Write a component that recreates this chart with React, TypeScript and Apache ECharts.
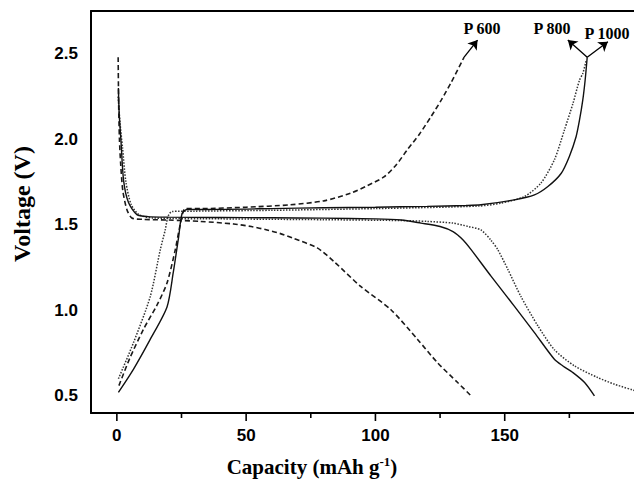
import React, { useEffect, useRef } from "react";
import * as echarts from "echarts";

// ---- Data (capacity in mAh g-1, voltage in V) ----
// P 600 (dashed)
const p600DisCap = [0.5, 0.7, 1.0, 1.5, 2.3, 3.9, 5.8, 10, 20, 32.3, 45.2, 52, 58.1, 63, 68.4, 77.5, 84, 94.3, 105.9, 116.3, 124, 131.8, 137];
const p600DisV = [2.48, 2.2, 2.0, 1.85, 1.7, 1.588, 1.54, 1.532, 1.528, 1.52, 1.505, 1.49, 1.47, 1.45, 1.42, 1.365, 1.285, 1.14, 1.005, 0.83, 0.694, 0.578, 0.5];
const p600ChgCap = [0.8, 5, 10.3, 15.5, 19.4, 22.6, 24.5, 26.5, 32.3, 50, 67, 80, 90.4, 97, 103.3, 108, 112.4, 117, 121.4, 125.5, 129.2, 134.3];
const p600ChgV = [0.56, 0.72, 0.89, 1.03, 1.16, 1.355, 1.5, 1.595, 1.595, 1.603, 1.617, 1.64, 1.685, 1.73, 1.78, 1.85, 1.94, 2.03, 2.13, 2.23, 2.33, 2.48];

// P 800 (dotted)
const p800DisCap = [0.5, 1.2, 2.2, 3.5, 5.5, 8.5, 14, 40, 80, 110, 120, 130, 136, 140.8, 144.7, 147.3, 151.2, 156.3, 162.8, 169.2, 177, 186, 192.5, 200.5];
const p800DisV = [2.25, 2.1, 1.95, 1.75, 1.62, 1.56, 1.54, 1.535, 1.53, 1.525, 1.52, 1.51, 1.49, 1.47, 1.41, 1.355, 1.24, 1.08, 0.91, 0.77, 0.675, 0.607, 0.568, 0.53];
const p800ChgCap = [0.6, 6.4, 12.9, 16.8, 18.7, 19.8, 21.3, 30, 60, 100, 140, 148.6, 157.6, 164, 169.2, 173.1, 176.4, 178.9, 180.2, 181.5];
const p800ChgV = [0.6, 0.81, 1.08, 1.355, 1.47, 1.55, 1.578, 1.58, 1.585, 1.595, 1.61, 1.627, 1.665, 1.744, 1.88, 2.055, 2.21, 2.345, 2.385, 2.46];

// P 1000 (solid)
const p1000DisCap = [0.6, 0.9, 1.55, 2.6, 4.5, 7.75, 12, 20, 40, 60, 80, 100, 110, 117.6, 125, 130, 134, 137, 144.7, 153.7, 161.5, 169.2, 172.5, 176.4, 180.9, 184.7];
const p1000DisV = [2.3, 2.15, 2.0, 1.76, 1.63, 1.56, 1.548, 1.545, 1.543, 1.541, 1.539, 1.535, 1.528, 1.51, 1.49, 1.46, 1.41, 1.355, 1.2, 1.025, 0.87, 0.714, 0.675, 0.636, 0.578, 0.5];
const p1000ChgCap = [0.6, 6.4, 12.9, 19.4, 21.8, 23.9, 25.2, 27.1, 35, 60, 80, 100, 120, 135, 140.8, 153.7, 161.5, 166.7, 171.8, 175, 177.6, 178.9, 180.2, 181.1, 181.9];
const p1000ChgV = [0.52, 0.655, 0.83, 1.02, 1.22, 1.43, 1.565, 1.59, 1.59, 1.595, 1.6, 1.603, 1.608, 1.613, 1.617, 1.646, 1.675, 1.724, 1.8, 1.9, 2.015, 2.11, 2.23, 2.345, 2.48];

// Arrows (start point, tip)
const arrowP600 = [[134.3, 2.48], [139.5, 2.58]];
const arrowP800 = [[181.9, 2.48], [174.4, 2.58]];
const arrowP1000 = [[181.9, 2.48], [189.9, 2.57]];

// Ticks
const xMajorTicks = [0, 50, 100, 150];
const xMinorTicks = [25, 75, 125, 175];
const yMajorTicks = [0.5, 1.0, 1.5, 2.0, 2.5];
const yMinorTicks = [0.75, 1.25, 1.75, 2.25];

const X_MIN = -10;
const X_MAX = 200;
const Y_MIN = 0.4;
const Y_MAX = 2.75;

const GRID = { left: 91, right: 0, top: 11, bottom: 66 };
const W = 634;
const H = 479;

const zip = (xs: number[], ys: number[]) => xs.map((x, i) => [x, ys[i]]);

export default function App() {
  const ref = useRef<HTMLDivElement>(null);
  useEffect(() => {
    const chart = echarts.init(ref.current!, null, { renderer: "svg" });
    const serif = '"Liberation Serif", "Times New Roman", serif';
    const sans = '"Liberation Sans", Arial, sans-serif';

    const mkLine = (name: string, xs: number[], ys: number[], type: any, color: string, width: number) => ({
      type: "line",
      name,
      data: zip(xs, ys),
      showSymbol: false,
      symbol: "none",
      smooth: 0.25,
      clip: true,
      xAxisIndex: 0,
      yAxisIndex: 0,
      lineStyle: { color, width, type },
    });

    const dashed = [5, 3];
    const dotted = [1.5, 1.5];

    // tick marks drawn as tiny line series (lengths in px converted to data units)
    const xPerPx = (X_MAX - X_MIN) / (W - GRID.left - GRID.right);
    const yPerPx = (Y_MAX - Y_MIN) / (H - GRID.top - GRID.bottom);
    const tickLine = (pts: number[][]) => ({
      type: "line",
      data: pts,
      showSymbol: false,
      symbol: "none",
      clip: false,
      silent: true,
      z: 20,
      xAxisIndex: 0,
      yAxisIndex: 0,
      lineStyle: { color: "#000", width: 1.6, type: "solid" },
    });
    const xTick = (v: number, len: number) => tickLine([[v, Y_MIN], [v, Y_MIN - len * yPerPx]]);
    const yTick = (v: number, len: number) => tickLine([[X_MIN, v], [X_MIN - len * xPerPx, v]]);

    const series: any[] = [
      mkLine("P600 discharge", p600DisCap, p600DisV, dashed, "#1a1a1a", 1.6),
      mkLine("P600 charge", p600ChgCap, p600ChgV, dashed, "#1a1a1a", 1.6),
      mkLine("P800 discharge", p800DisCap, p800DisV, dotted, "#333", 1.5),
      mkLine("P800 charge", p800ChgCap, p800ChgV, dotted, "#333", 1.5),
      mkLine("P1000 discharge", p1000DisCap, p1000DisV, "solid", "#111", 1.4),
      mkLine("P1000 charge", p1000ChgCap, p1000ChgV, "solid", "#111", 1.4),
      {
        type: "lines",
        coordinateSystem: "cartesian2d",
        xAxisIndex: 0,
        yAxisIndex: 0,
        silent: true,
        symbol: ["none", "arrow"],
        symbolSize: 9,
        lineStyle: { color: "#000", width: 1.3, type: "solid", opacity: 1 },
        data: [{ coords: arrowP600 }, { coords: arrowP800 }, { coords: arrowP1000 }],
        z: 5,
      },
      ...xMajorTicks.map((v) => xTick(v, 8)),
      ...xMinorTicks.map((v) => xTick(v, 5)),
      ...yMajorTicks.map((v) => yTick(v, 8)),
      ...yMinorTicks.map((v) => yTick(v, 5)),
    ];

    chart.setOption({
      animation: false,
      backgroundColor: "#fff",
      grid: { ...GRID, containLabel: false },
      xAxis: [
        {
          type: "value", min: X_MIN, max: X_MAX, position: "bottom",
          axisLine: { show: true, onZero: false, lineStyle: { color: "#000", width: 2 } },
          axisTick: { show: false },
          axisLabel: { customValues: xMajorTicks, color: "#000", fontSize: 17, fontWeight: "bold", fontFamily: sans, margin: 14 },
          splitLine: { show: false },
        },
        {
          type: "value", min: X_MIN, max: X_MAX, position: "top",
          axisLine: { show: true, onZero: false, lineStyle: { color: "#000", width: 2 } },
          axisTick: { show: false },
          axisLabel: { show: false },
          splitLine: { show: false },
        },
      ],
      yAxis: [
        {
          type: "value", min: Y_MIN, max: Y_MAX, position: "left",
          axisLine: { show: true, onZero: false, lineStyle: { color: "#000", width: 2 } },
          axisTick: { show: false },
          axisLabel: {
            customValues: yMajorTicks, color: "#000", fontSize: 17, fontWeight: "bold", fontFamily: sans, margin: 13,
            formatter: (v: number) => v.toFixed(1),
          },
          splitLine: { show: false },
        },
      ],
      graphic: [
        {
          type: "text", x: 22, y: 204, rotation: Math.PI / 2,
          style: { text: "Voltage (V)", font: `bold 24px ${serif}`, fill: "#000", textAlign: "center", textVerticalAlign: "middle" },
        },
        {
          type: "text", x: 312, y: 467,
          style: {
            text: "Capacity (mAh g{s|-1})", font: `bold 21px ${serif}`, fill: "#000", textAlign: "center", textVerticalAlign: "middle",
            rich: { s: { fontSize: 13, fontWeight: "bold", fontFamily: serif, fill: "#000", padding: [0, 0, 12, 0] } },
          },
        },
        {
          type: "text", x: 482, y: 28,
          style: { text: "P 600", font: `bold 16px ${serif}`, fill: "#000", textAlign: "center", textVerticalAlign: "middle" },
        },
        {
          type: "text", x: 552, y: 28,
          style: { text: "P 800", font: `bold 16px ${serif}`, fill: "#000", textAlign: "center", textVerticalAlign: "middle" },
        },
        {
          type: "text", x: 607, y: 33,
          style: { text: "P 1000", font: `bold 16px ${serif}`, fill: "#000", textAlign: "center", textVerticalAlign: "middle" },
        },
      ],
      series,
    });
    return () => chart.dispose();
  }, []);
  return <div ref={ref} style={{ position: "absolute", left: 0, top: 0, width: W, height: H }} />;
}
